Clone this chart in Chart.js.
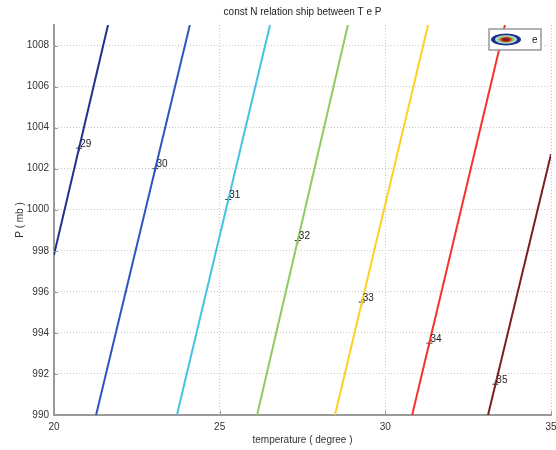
<!DOCTYPE html>
<html>
<head>
<meta charset="utf-8">
<script src="https://cdn.jsdelivr.net/npm/chart.js@4.4.1/dist/chart.umd.min.js"></script>
<style>
  html, body { margin: 0; padding: 0; background: #fff; }
  #wrap { width: 556px; height: 450px; }
</style>
</head>
<body>
<div id="wrap"><canvas id="canvas"></canvas></div>
<script>
// constant N lines, each given by its two ends (T in degree, P in mb)
var nLabels = ['29', '30', '31', '32', '33', '34', '35'];
var tStart = [20, 21.27, 23.71, 26.13, 28.48, 30.81, 33.1];
var pStart = [997.8, 990, 990, 990, 990, 990, 990];
var tEnd = [21.63, 24.1, 26.52, 28.87, 31.29, 33.61, 35];
var pEnd = [1009, 1009, 1009, 1009, 1009, 1009, 1002.7];
// where the contour labels sit
var labelT = [20.76, 23.06, 25.26, 27.36, 29.29, 31.33, 33.32];
var labelP = [1003, 1002, 1000.5, 998.5, 995.5, 993.5, 991.5];
var xTicks = [20, 25, 30, 35];
var yTicks = [990, 992, 994, 996, 998, 1000, 1002, 1004, 1006, 1008];

var lineColors = ['#222f8c', '#2f55bd', '#45c3e3', '#8fcc5f', '#ffcf26', '#f5332a', '#7d1f22'];
var font = "'Liberation Sans', Arial, sans-serif";

var datasets = [];
for (var i = 0; i < nLabels.length; i++) {
  datasets.push({
    label: 'N ' + nLabels[i],
    data: [{x: tStart[i], y: pStart[i]}, {x: tEnd[i], y: pEnd[i]}],
    showLine: true,
    borderColor: lineColors[i],
    borderWidth: 2,
    pointRadius: 0,
    clip: 0
  });
}
datasets.push({
  label: 'labels',
  data: labelT.map(function(t, i) { return {x: t, y: labelP[i]}; }),
  showLine: false,
  pointStyle: 'cross',
  pointRadius: 3,
  borderColor: '#333',
  borderWidth: 1
});

var decor = {
  id: 'decor',
  afterDatasetsDraw: function(chart) {
    var ctx = chart.ctx;
    var xs = chart.scales.x, ys = chart.scales.y;
    var area = chart.chartArea;
    ctx.save();
    // inward tick marks, as in the original
    ctx.strokeStyle = '#9a9a9a';
    ctx.lineWidth = 1;
    ctx.beginPath();
    yTicks.forEach(function(v) {
      var y = Math.round(ys.getPixelForValue(v)) + 0.5;
      ctx.moveTo(area.left, y); ctx.lineTo(area.left + 4, y);
    });
    xTicks.forEach(function(v) {
      var x = Math.round(xs.getPixelForValue(v)) + 0.5;
      ctx.moveTo(x, area.bottom); ctx.lineTo(x, area.bottom - 4);
    });
    ctx.stroke();
    // contour labels
    ctx.fillStyle = '#222';
    ctx.font = '10px ' + font;
    ctx.textAlign = 'left';
    ctx.textBaseline = 'middle';
    for (var i = 0; i < nLabels.length; i++) {
      ctx.fillText(nLabels[i], xs.getPixelForValue(labelT[i]) + 1, ys.getPixelForValue(labelP[i]) - 4);
    }
    // title
    ctx.textAlign = 'center';
    ctx.fillText('const N relation ship between T e P', (area.left + area.right) / 2, 12);
    // legend box
    var bx = 489, by = 29, bw = 52, bh = 21;
    ctx.fillStyle = '#fff';
    ctx.fillRect(bx, by, bw, bh);
    ctx.strokeStyle = '#999';
    ctx.lineWidth = 1.5;
    ctx.strokeRect(bx, by, bw, bh);
    var cx = 506, cy = 39.5;
    var rings = [[15, 6, '#222f8c'], [11, 4.2, '#b9e3f5'], [9, 3.4, '#8fcc5f'], [6, 2.6, '#f5332a'], [4, 1.8, '#7d1f22']];
    rings.forEach(function(r) {
      ctx.beginPath();
      ctx.ellipse(cx, cy, r[0], r[1], 0, 0, Math.PI * 2);
      ctx.fillStyle = r[2];
      ctx.fill();
    });
    ctx.fillStyle = '#222';
    ctx.textAlign = 'left';
    ctx.fillText('e', 532, 40);
    ctx.restore();
  }
};

var plain = function(v) { return String(v); };

new Chart(document.getElementById('canvas'), {
  type: 'scatter',
  data: { datasets: datasets },
  options: {
    responsive: true,
    maintainAspectRatio: false,
    animation: false,
    layout: { padding: { top: 25, right: 5, left: 0, bottom: 0 } },
    plugins: {
      legend: { display: false },
      tooltip: { enabled: false }
    },
    scales: {
      x: {
        type: 'linear',
        min: 20, max: 35,
        afterBuildTicks: function(scale) { scale.ticks = xTicks.map(function(v) { return {value: v}; }); },
        afterFit: function(scale) {
          scale.height = 35;
          scale.paddingLeft = 0;
          scale.paddingRight = 0;
        },
        border: { color: '#9a9a9a', width: 2, dash: [1, 2] },
        grid: { color: '#c8c8c8', lineWidth: 1, drawTicks: false },
        ticks: { color: '#333', font: { family: font, size: 10 }, padding: 6, maxRotation: 0, callback: plain },
        title: { display: true, text: 'temperature ( degree )', color: '#333', font: { family: font, size: 10 }, padding: { top: 2 } }
      },
      y: {
        type: 'linear',
        min: 990, max: 1009,
        afterBuildTicks: function(scale) { scale.ticks = yTicks.map(function(v) { return {value: v}; }); },
        afterFit: function(scale) {
          scale.width = 54;
          scale.paddingTop = 0;
          scale.paddingBottom = 0;
        },
        border: { color: '#9a9a9a', width: 2, dash: [1, 2] },
        grid: { color: '#c8c8c8', lineWidth: 1, drawTicks: false },
        ticks: { color: '#333', font: { family: font, size: 10 }, padding: 5, callback: plain },
        title: { display: true, text: 'P ( mb )', color: '#333', font: { family: font, size: 10 }, padding: { top: 14, bottom: 4 } }
      }
    }
  },
  plugins: [decor]
});
</script>
</body>
</html>
